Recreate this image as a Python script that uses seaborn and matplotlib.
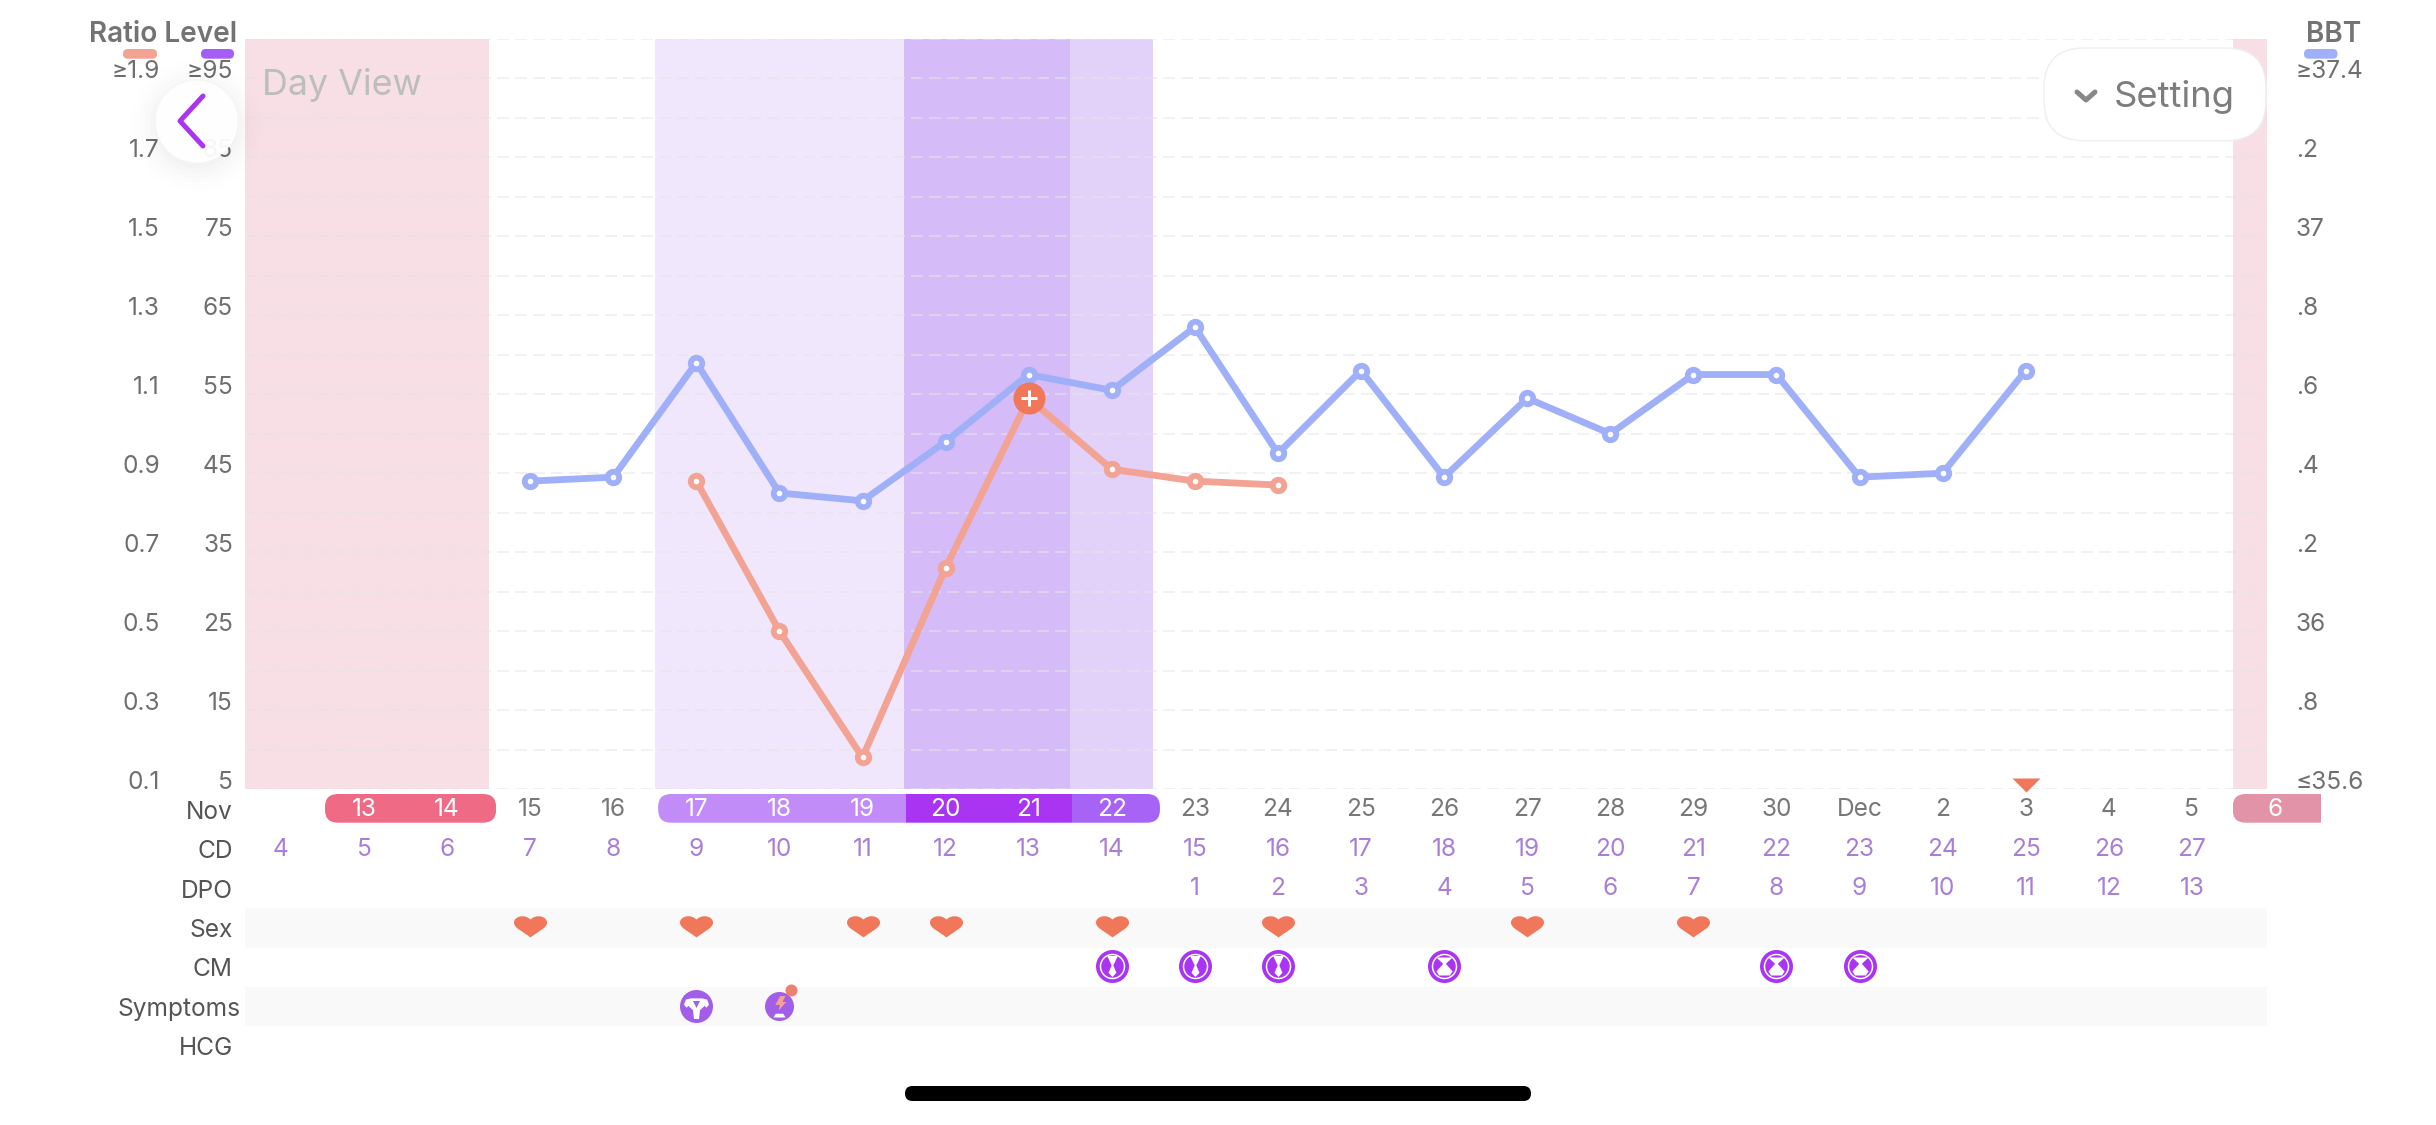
import matplotlib
matplotlib.use("Agg")
import matplotlib.pyplot as plt
import seaborn as sns
import numpy as np
from matplotlib.patches import FancyBboxPatch, Rectangle, Circle
from matplotlib.path import Path
from matplotlib.transforms import ScaledTranslation

# ---------- data ----------
bbt_days = [7, 8, 9, 10, 11, 12, 13, 14, 15, 16, 17, 18, 19, 20, 21, 22, 23, 24, 25]
bbt_values = [36.38, 36.39, 36.68, 36.35, 36.33, 36.48, 36.65, 36.61, 36.77, 36.45,
              36.66, 36.39, 36.59, 36.50, 36.65, 36.65, 36.39, 36.40, 36.66]
ratio_days = [9, 10, 11, 12, 13, 14, 15, 16]
ratio_values = [0.88, 0.50, 0.18, 0.66, 1.09, 0.91, 0.88, 0.87]
peak_day = [13]
peak_ratio = [1.09]
ovulation_day = [25]
ovulation_bbt = [35.61]

ratio_ticks = [1.9, 1.7, 1.5, 1.3, 1.1, 0.9, 0.7, 0.5, 0.3, 0.1]
ratio_labels = ["≥1.9", "1.7", "1.5", "1.3", "1.1", "0.9", "0.7", "0.5", "0.3", "0.1"]
level_ticks = [95, 85, 75, 65, 55, 45, 35, 25, 15, 5]
level_labels = ["≥95", "85", "75", "65", "55", "45", "35", "25", "15", "5"]
bbt_ticks = [37.4, 37.2, 37.0, 36.8, 36.6, 36.4, 36.2, 36.0, 35.8, 35.6]
bbt_labels = ["≥37.4", ".2", "37", ".8", ".6", ".4", ".2", "36", ".8", "≤35.6"]

row_names = ["Nov", "CD", "DPO", "Sex", "CM", "Symptoms", "HCG"]
cd_days = list(range(4, 28))
date_days = list(range(5, 29))
date_labels = ["13", "14", "15", "16", "17", "18", "19", "20", "21", "22", "23", "24", "25",
               "26", "27", "28", "29", "30", "Dec", "2", "3", "4", "5", "6"]
dpo_days = list(range(15, 28))
dpo_labels = [str(d) for d in range(1, 14)]
sex_days = [7, 9, 11, 12, 14, 16, 19, 21]
cm_days = [14, 15, 16, 18, 22, 23]
symptom_days = [9]
symptom_small_days = [10]
white_date_days = [5, 6, 9, 10, 11, 12, 13, 14, 28]

# shaded spans (start, end, colour)
spans = [(None, 6.5, "#f7dfe5"), (8.5, 11.5, "#f0e7fd"), (11.5, 13.5, "#d5bbf7"),
         (13.5, 14.5, "#e2d1f8"), (27.5, None, "#f7dfe5")]

# ---------- style ----------
W, H = 2436, 1125
sns.set_theme(style="white")
plt.rcParams["font.family"] = ["Inter", "DejaVu Sans"]
PX = 0.72
GREY = "#6f6f6f"
BBT_C, RATIO_C, LEVEL_C = "#9fb0f8", "#f2a394", "#a55ef5"
CORAL = "#f0775a"
PURPLE = "#a935f2"
CD_C = "#a97ed6"
TICK_FS = 24.5 * PX

fig = plt.figure(figsize=(W / 100, H / 100), dpi=100, facecolor="white")
X0, X1, Y0, Y1 = 245, 2266.7, 39, 789
XMIN, XMAX = 3.568, 27.90


def cd_px(cd):
    return X0 + (cd - XMIN) * (X1 - X0) / (XMAX - XMIN)


under = fig.add_axes([0, 0, 1, 1], zorder=0.5)
ax = fig.add_axes([X0 / W, 1 - Y1 / H, (X1 - X0) / W, (Y1 - Y0) / H], zorder=1)
strip = fig.add_axes([X0 / W, 1 - 1065.45 / H, (X1 - X0) / W, (1065.45 - 790.35) / H], zorder=1)
ui = fig.add_axes([0, 0, 1, 1], zorder=5)
for a in (under, ui):
    a.set_xlim(0, W)
    a.set_ylim(H, 0)
    a.axis("off")
    a.patch.set_alpha(0)

# ---------- main chart ----------
ax.set_xlim(XMIN, XMAX)
ax.set_ylim(5, 100)
ax.patch.set_alpha(0)
for s0, s1, c in spans:
    ax.axvspan(XMIN if s0 is None else s0, XMAX if s1 is None else s1, color=c, lw=0, zorder=1)
ax.set_xticks([])
ax.set_yticks(level_ticks)
ax.set_yticklabels(level_labels)
ax.set_yticks(sorted(set(range(5, 101, 5)) - set(level_ticks)), minor=True)
ax.set_axisbelow(False)
ax.grid(which="both", axis="y", color="#e6e4e8", alpha=0.55, lw=2 * PX, ls=(0, (6, 3)))
ax.tick_params(axis="y", which="both", length=0, pad=12 * PX, labelsize=TICK_FS, labelcolor=GREY)

bbt_ax = ax.twinx()
bbt_ax.set_ylim(35.6, 37.5)
bbt_ax.set_yticks(bbt_ticks)
bbt_ax.set_yticklabels(bbt_labels)
bbt_ax.grid(False)
bbt_ax.tick_params(axis="y", length=0, pad=29 * PX, labelsize=TICK_FS, labelcolor=GREY)

ratio_ax = ax.twinx()
ratio_ax.set_ylim(0.1, 2.0)
ratio_ax.yaxis.tick_left()
ratio_ax.set_yticks(ratio_ticks)
ratio_ax.set_yticklabels(ratio_labels)
ratio_ax.grid(False)
ratio_ax.tick_params(axis="y", length=0, pad=85 * PX, labelsize=TICK_FS, labelcolor=GREY)

for a in (ax, bbt_ax, ratio_ax):
    for lab in a.get_yticklabels():
        lab.set_verticalalignment("baseline")
    a.set_ylabel("")
sns.despine(ax=ax, left=True, bottom=True, right=True, top=True)
for a in (bbt_ax, ratio_ax):
    for sp in a.spines.values():
        sp.set_visible(False)

line_kw = dict(marker="o", markersize=11.5 * PX, markerfacecolor="white", markeredgewidth=5.8 * PX,
               linewidth=6.8 * PX, solid_joinstyle="round", errorbar=None, legend=False)
sns.lineplot(x=bbt_days, y=bbt_values, ax=bbt_ax, color=BBT_C, markeredgecolor=BBT_C, **line_kw)
sns.lineplot(x=ratio_days, y=ratio_values, ax=ratio_ax, color=RATIO_C, markeredgecolor=RATIO_C, **line_kw)
for a in (bbt_ax, ratio_ax):
    a.set_ylabel("")

tri_path = Path([(-1, 0.5), (1, 0.5), (0, -0.5), (-1, 0.5)], closed=True)
sns.scatterplot(x=peak_day, y=peak_ratio, ax=ratio_ax, s=(32 * PX) ** 2, color=CORAL, linewidth=0,
                zorder=5, legend=False)
ratio_ax.scatter(peak_day, peak_ratio, s=(16 * PX) ** 2, c="white", marker="+", linewidths=3 * PX, zorder=6)
sns.scatterplot(x=ovulation_day, y=ovulation_bbt, ax=bbt_ax, s=(28 * PX) ** 2, color=CORAL,
                marker=tri_path, linewidth=0, legend=False, clip_on=False)
ratio_ax.set_xlim(XMIN, XMAX)
bbt_ax.set_xlim(XMIN, XMAX)
ratio_ax.set_xticks([])
bbt_ax.set_xticks([])
ratio_ax.set_ylabel("")
bbt_ax.set_ylabel("")

# ---------- strip rows ----------
strip.set_xlim(XMIN, XMAX)
strip.set_ylim(6.5, -0.5)
strip.patch.set_alpha(0)
for sp in strip.spines.values():
    sp.set_visible(False)
strip.set_xticks([])
strip.set_yticks(range(len(row_names)))
strip.set_yticklabels(row_names)
strip.tick_params(axis="y", length=0, pad=12 * PX, labelsize=TICK_FS, labelcolor="#555555")
strip.grid(False)
strip.axhspan(2.5, 3.5, color="#f9f9f9", lw=0, zorder=0)
strip.axhspan(4.5, 5.5, color="#f9f9f9", lw=0, zorder=0)
sym_label = strip.get_yticklabels()[5]
sym_label.set_transform(sym_label.get_transform() + ScaledTranslation(8 / 100, 0, fig.dpi_scale_trans))

for d, t in zip(date_days, date_labels):
    strip.text(d, 0, t, ha="center", va="center", fontsize=TICK_FS,
               color="white" if d in white_date_days else "#777777", clip_on=False)
for d in cd_days:
    strip.text(d, 1, str(d), ha="center", va="center", fontsize=TICK_FS, color=CD_C)
for d, t in zip(dpo_days, dpo_labels):
    strip.text(d, 2, t, ha="center", va="center", fontsize=TICK_FS, color=CD_C)

C4 = Path.CURVE4
heart = Path([(0, -0.66), (-0.5, -0.28), (-1, -0.1), (-1, 0.24), (-1, 0.62), (-0.35, 0.78), (0, 0.42),
              (0.35, 0.78), (1, 0.62), (1, 0.24), (1, -0.1), (0.5, -0.28), (0, -0.66), (0, -0.66)],
             [Path.MOVETO, C4, C4, C4, C4, C4, C4, C4, C4, C4, C4, C4, C4, Path.CLOSEPOLY])
sns.scatterplot(x=sex_days, y=[2.95] * len(sex_days), ax=strip, s=(33 * PX) ** 2, color=CORAL,
                marker=heart, linewidth=0, legend=False)

# cervical-mucus badges: nested discs with a white glyph
cm_tall = Path([(-0.5, 1), (0.5, 1), (0.08, 0.1), (0.38, -0.6), (0, -1), (-0.38, -0.6), (-0.08, 0.1), (-0.5, 1)],
               closed=True)
cm_wide = Path([(-0.9, 1), (0.9, 1), (0.15, 0.3), (0.9, -0.55), (0.6, -1), (-0.6, -1), (-0.9, -0.55),
                (-0.15, 0.3), (-0.9, 1)], closed=True)
cm_y = [3.98] * len(cm_days)
sns.scatterplot(x=cm_days, y=cm_y, ax=strip, s=(33 * PX) ** 2, color=PURPLE, linewidth=0, legend=False)
sns.scatterplot(x=cm_days, y=cm_y, ax=strip, s=(25.5 * PX) ** 2, color="white", linewidth=0, legend=False)
sns.scatterplot(x=cm_days, y=cm_y, ax=strip, s=(22.5 * PX) ** 2, color=PURPLE, linewidth=0, legend=False)
tall_days = [d for d in cm_days if d <= 16]
wide_days = [d for d in cm_days if d > 16]
sns.scatterplot(x=tall_days, y=[3.98] * len(tall_days), ax=strip, s=(21 * PX) ** 2, color="white",
                marker=cm_tall, linewidth=0, legend=False)
sns.scatterplot(x=wide_days, y=[3.98] * len(wide_days), ax=strip, s=(18 * PX) ** 2, color="white",
                marker=cm_wide, linewidth=0, legend=False)

# symptom badges
uterus = Path([(-0.2, -1), (0.2, -1), (0.28, -0.3), (0.65, 0.05), (0.8, -0.1), (1, 0.15), (0.85, 0.55), (0.45, 0.65),
               (-0.45, 0.65), (-0.85, 0.55), (-1, 0.15), (-0.8, -0.1), (-0.65, 0.05), (-0.28, -0.3), (-0.2, -1)],
              closed=True)
bolt = Path([(0.1, 1), (0.7, 1), (0.35, 0.3), (0.8, 0.3), (-0.1, -0.7), (0.05, -0.05), (-0.5, -0.05), (0.1, 1)],
            closed=True)
base = Path([(-0.8, 0), (0.8, 0), (0.5, 0.5), (-0.5, 0.5), (-0.8, 0)], closed=True)
sns.scatterplot(x=symptom_days, y=[4.98], ax=strip, s=(33 * PX) ** 2, color="#a35ee8", linewidth=0, legend=False)
sns.scatterplot(x=symptom_days, y=[4.98], ax=strip, s=(25 * PX) ** 2, color="white", marker=uterus,
                linewidth=0, legend=False)
sns.scatterplot(x=symptom_days, y=[4.93], ax=strip, s=(7 * PX) ** 2, color="#a35ee8", marker="v",
                linewidth=0, legend=False)
sns.scatterplot(x=symptom_small_days, y=[4.98], ax=strip, s=(29 * PX) ** 2, color="#a35ee8", linewidth=0, legend=False)
sns.scatterplot(x=symptom_small_days, y=[4.94], ax=strip, s=(17 * PX) ** 2, color=RATIO_C, marker=bolt,
                linewidth=0, legend=False)
sns.scatterplot(x=symptom_small_days, y=[5.27], ax=strip, s=(12 * PX) ** 2, color="white", marker=base,
                linewidth=0, legend=False)
sns.scatterplot(x=[d + 0.135 for d in symptom_small_days], y=[4.57], ax=strip, s=(12 * PX) ** 2, color="#ee8070",
                linewidth=0, legend=False)
strip.set_ylabel("")
strip.set_xlim(XMIN, XMAX)
strip.set_ylim(6.5, -0.5)
strip.set_yticks(range(len(row_names)))


# ---------- date pills ----------
def pill(x0, x1, segments):
    shape = FancyBboxPatch((x0, 794), x1 - x0, 28.7, boxstyle="round,pad=0,rounding_size=13",
                           fc="none", ec="none", transform=under.transData)
    under.add_patch(shape)
    for a, b, c in segments:
        r = Rectangle((a, 794), b - a, 28.7, fc=c, ec="none")
        under.add_patch(r)
        r.set_clip_path(shape)


pill(cd_px(4.53), cd_px(6.59), [(cd_px(4.53), cd_px(6.59), "#ee6a85")])
pill(cd_px(8.54), cd_px(14.58), [(cd_px(8.54), cd_px(11.52), "#c28cf8"), (cd_px(11.52), cd_px(13.52), PURPLE),
                                 (cd_px(13.52), cd_px(14.58), "#a663f5")])
pill(cd_px(27.49), cd_px(28.8), [(cd_px(27.49), cd_px(28.55), "#e393a8")])

# ---------- headers and chrome ----------
ui.text(237.5, 41.7, "Ratio Level", ha="right", va="baseline", fontsize=28 * PX, fontweight="semibold", color="#737373")
ui.text(2361, 41.7, "BBT", ha="right", va="baseline", fontsize=28 * PX, fontweight="semibold", color="#737373")
for x0, x1, c in [(123, 157, "#f4a292"), (201, 234, LEVEL_C), (2304, 2337.6, BBT_C)]:
    ui.add_patch(FancyBboxPatch((x0, 49), x1 - x0, 9.7, boxstyle="round,pad=0,rounding_size=4.8", fc=c, ec="none"))

ui.text(262, 95, "Day View", ha="left", va="baseline", fontsize=35.8 * PX, color="#bcbdbd")

for i, a in enumerate(np.linspace(0.012, 0.002, 6)):
    ui.add_patch(Circle((196.7, 126), 42 + 5 * i, fc="black", ec="none", alpha=a))
ui.add_patch(Circle((196.7, 121.7), 41, fc="white", ec="none", alpha=0.95))
ui.plot([203, 180, 203], [96, 121, 146], color=PURPLE, lw=5 * PX, solid_capstyle="round", solid_joinstyle="round")

ui.add_patch(FancyBboxPatch((2044, 48), 222, 92.7, boxstyle="round,pad=0,rounding_size=40",
                            fc="white", ec="#eeeeee", lw=1))
ui.plot([2077, 2086, 2095], [92, 100, 92], color="#888888", lw=5 * PX, solid_capstyle="round", solid_joinstyle="round")
ui.text(2114, 107, "Setting", ha="left", va="baseline", fontsize=36.4 * PX, color="#7d7d7d")

ui.add_patch(FancyBboxPatch((905, 1086), 626, 15, boxstyle="round,pad=0,rounding_size=7.5", fc="black", ec="none"))

fig.savefig("out.png", dpi=100, facecolor="white")
